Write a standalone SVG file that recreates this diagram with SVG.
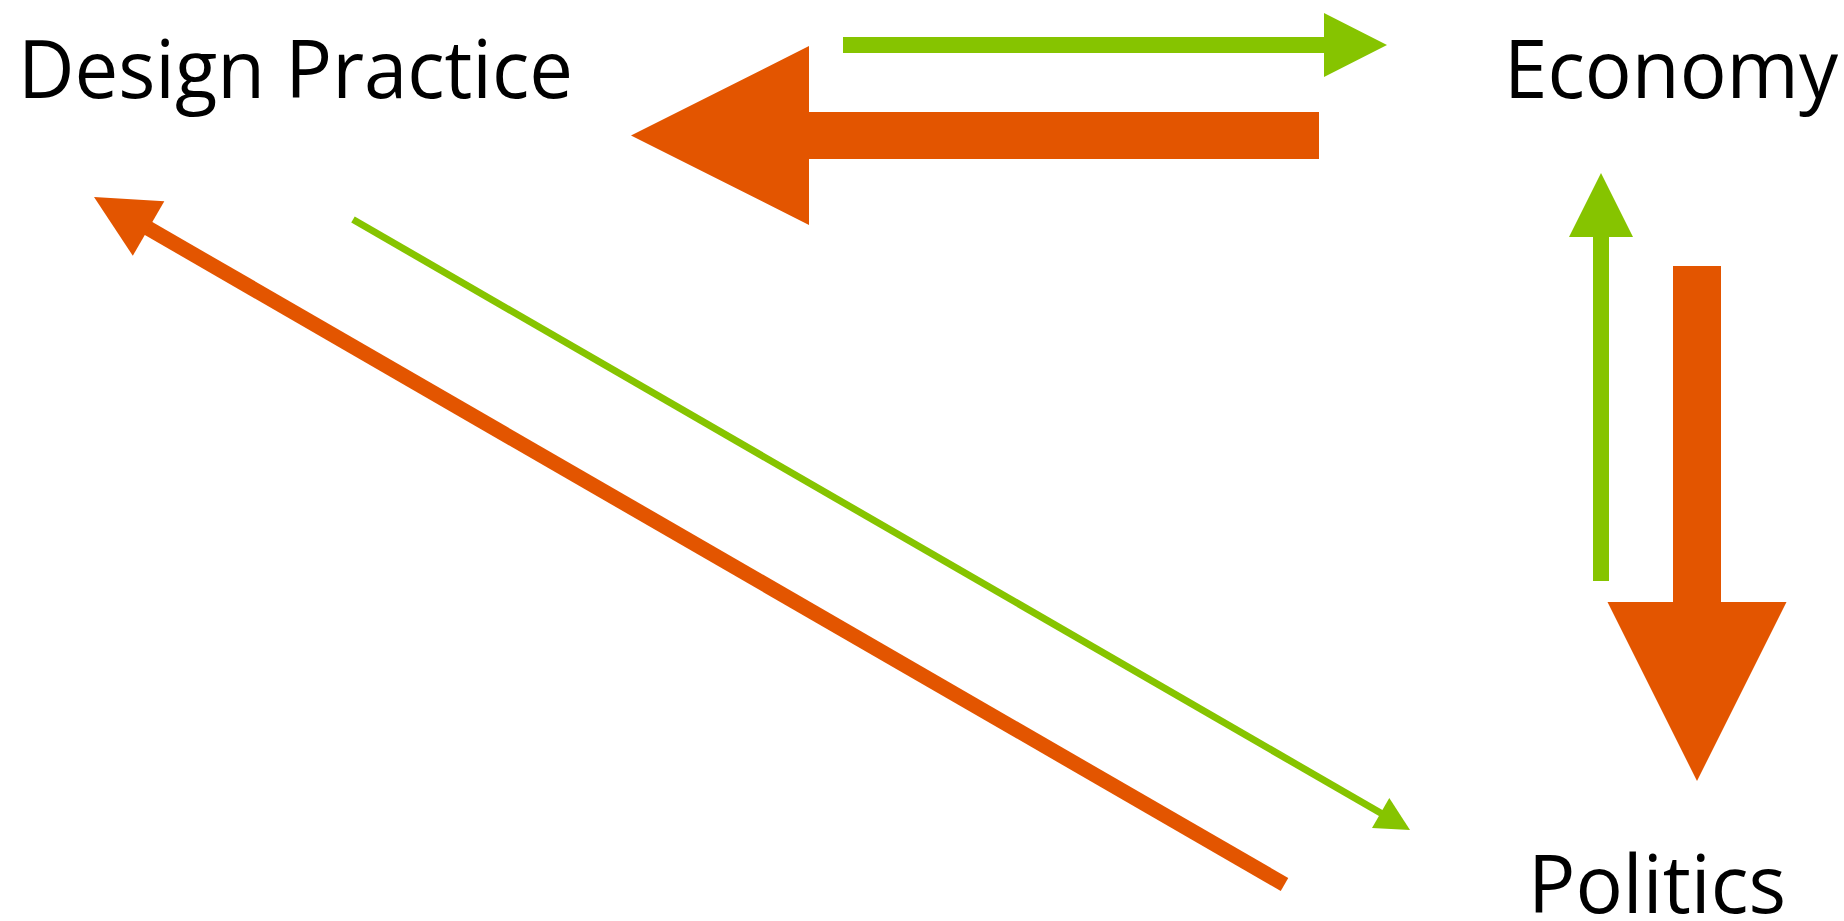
<svg xmlns="http://www.w3.org/2000/svg" width="1844" height="921" viewBox="0 0 1844 921">
<style>
.lbl{font-family:"Open Sans","Noto Sans","DejaVu Sans",sans-serif;font-size:81px;fill:#000}
.or{fill:#E35500}
.gr{fill:#86C400}
.orl{stroke:#E35500;stroke-width:15;fill:none}
.grl{stroke:#86C400;stroke-width:7;fill:none}
</style>
<rect width="1844" height="921" fill="#fff"/>
<g id="design-practice"><text class="lbl" x="18" y="98" textLength="555" lengthAdjust="spacingAndGlyphs">Design Practice</text></g>
<g id="economy"><text class="lbl" x="1504" y="98" textLength="334" lengthAdjust="spacingAndGlyphs">Economy</text></g>
<g id="politics"><text class="lbl" x="1528" y="913" textLength="258" lengthAdjust="spacingAndGlyphs">Politics</text></g>
<g id="connectors">
<polygon class="or" points="631,135.5 809,46 809,112 1319,112 1319,159 809,159 809,225"/>
<polygon class="gr" points="843,37 1324,37 1324,13 1387,45 1324,77 1324,53 843,53"/>
<polygon class="gr" points="1593,581 1593,237 1569,237 1601,173 1633,237 1609,237 1609,581"/>
<polygon class="or" points="1673,266 1721,266 1721,602 1786.5,602 1697,781 1607.5,602 1673,602"/>
<line class="orl" x1="1284.5" y1="884.5" x2="146" y2="227"/>
<polygon class="or" points="94,197 164.3,201.2 132.8,255.8"/>
<line class="grl" x1="353" y1="219.5" x2="1382" y2="813.8"/>
<polygon class="gr" points="1410,830 1389.3,798 1372,828"/>
</g>
</svg>
